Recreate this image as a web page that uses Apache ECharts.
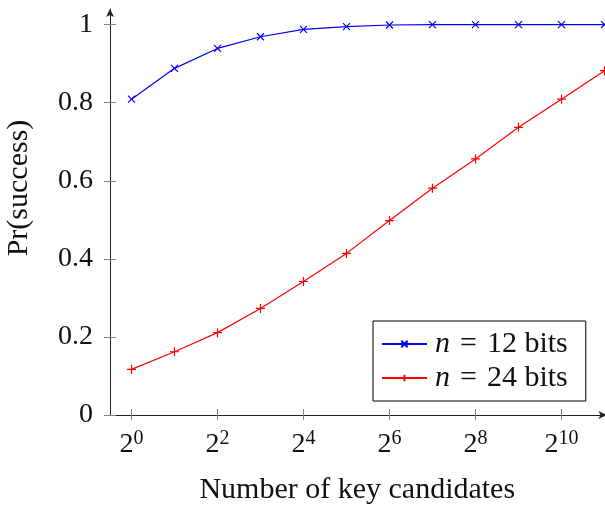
<!DOCTYPE html>
<html>
<head>
<meta charset="utf-8">
<script src="https://cdn.jsdelivr.net/npm/echarts@6/dist/echarts.min.js"></script>
<style>
    html, body { margin: 0; padding: 0; background: #fff; }
    #keyCandidates { width: 605px; height: 506px; }
</style>
</head>
<body>
<div id="keyCandidates"></div>
<script type="text/javascript">
// success probability vs number of key candidates (log2 scale)
var exponents = [0, 1, 2, 3, 4, 5, 6, 7, 8, 9, 10, 11]
var bits12 = [0.809, 0.888, 0.939, 0.969, 0.988, 0.995, 0.999, 1, 1, 1, 1, 1]
var bits24 = [0.117, 0.162, 0.211, 0.273, 0.342, 0.414, 0.498, 0.581, 0.656, 0.737, 0.809, 0.882]
var seriesNames = ['n = 12 bits', 'n = 24 bits']
var xTicks = [0, 2, 4, 6, 8, 10]
var yTicks = [0, 0.2, 0.4, 0.6, 0.8, 1]

var font = 'Liberation Serif'
var crossPath = 'path://M0,0L10,10M10,0L0,10'
var plusPath = 'path://M5,0L5,10M0,5L10,5'

function pairs(values) {
    return exponents.map(function (e, i) { return [e, values[i]] })
}

var axisLineStyle = { color: '#222', width: 1 }
var tickLineStyle = { color: '#808080', width: 1 }

var option = {
    backgroundColor: '#fff',
    animation: false,
    grid: {
        left: 110,
        right: 0.5,
        top: 9,
        bottom: 91,
        containLabel: false,
        outerBoundsMode: 'none'
    },
    legend: {
        orient: 'vertical',
        left: 373,
        top: 321,
        padding: [8, 18, 8, 8],
        itemGap: 4,
        itemWidth: 45,
        itemHeight: 8,
        borderColor: '#000',
        borderWidth: 1,
        backgroundColor: '#fff',
        data: seriesNames,
        formatter: function (name) {
            // italic n, a bit more room round "=" like TeX math
            return '{i|n}' + name.slice(1).replace(' = ', '\u2004=\u2004')
        },
        textStyle: {
            fontFamily: font,
            fontSize: 30,
            lineHeight: 30,
            color: '#111',
            padding: [0, 0, 0, 3],
            rich: {
                i: { fontFamily: font, fontSize: 30, fontStyle: 'italic', color: '#111' }
            }
        }
    },
    xAxis: [{
            type: 'value',
            min: -0.5,
            max: 11,
            name: 'Number of key candidates',
            nameLocation: 'middle',
            nameGap: 60,
            nameTextStyle: { fontFamily: font, fontSize: 30, color: '#111', verticalAlign: 'top' },
            splitLine: { show: false },
            axisLine: {
                onZero: false,
                lineStyle: axisLineStyle,
                symbol: ['none', 'arrow'],
                symbolSize: [6, 8],
                symbolOffset: [0, 2]
            },
            axisTick: { length: 5, lineStyle: tickLineStyle, customValues: xTicks },
            axisLabel: {
                margin: 14,
                customValues: xTicks,
                formatter: function (v) {
                    return '{b|2}{s|' + v + '}'
                },
                rich: {
                    b: { fontFamily: font, fontSize: 28, color: '#111' },
                    s: { fontFamily: font, fontSize: 20, color: '#111', padding: [0, 0, 12, 0] }
                }
            }
        },
        {
            type: 'value',
            position: 'bottom',
            offset: 0,
            min: -0.5,
            max: 11,
            splitLine: { show: false },
            axisLine: { show: false, onZero: false },
            axisLabel: { show: false },
            axisTick: { show: true, inside: true, length: 6, lineStyle: tickLineStyle, customValues: xTicks }
        }
    ],
    yAxis: [{
            type: 'value',
            min: 0,
            max: 1.04,
            name: 'Pr(success)',
            nameLocation: 'middle',
            nameGap: 76,
            nameTextStyle: { fontFamily: font, fontSize: 30, color: '#111', padding: [0, 0, 0, 48] },
            splitLine: { show: false },
            axisLine: {
                onZero: false,
                lineStyle: axisLineStyle,
                symbol: ['none', 'arrow'],
                symbolSize: [6, 8]
            },
            axisTick: { length: 6, lineStyle: tickLineStyle, customValues: yTicks },
            axisLabel: {
                margin: 17,
                customValues: yTicks,
                fontFamily: font,
                fontSize: 28,
                color: '#111'
            }
        },
        {
            type: 'value',
            position: 'left',
            offset: 0,
            min: 0,
            max: 1.04,
            splitLine: { show: false },
            axisLine: { show: false, onZero: false },
            axisLabel: { show: false },
            axisTick: { show: true, inside: true, length: 6, lineStyle: tickLineStyle, customValues: yTicks }
        }
    ],
    series: [{
            name: seriesNames[0],
            type: 'line',
            data: pairs(bits12),
            symbol: crossPath,
            symbolSize: 7,
            showAllSymbol: true,
            itemStyle: { color: '#0000ff', borderColor: '#0000ff', borderWidth: 1.2 },
            lineStyle: { color: '#0000ff', width: 1.2 }
        },
        {
            name: seriesNames[1],
            type: 'line',
            data: pairs(bits24),
            symbol: plusPath,
            symbolSize: 9,
            showAllSymbol: true,
            itemStyle: { color: '#ff0000', borderColor: '#ff0000', borderWidth: 1.2 },
            lineStyle: { color: '#ff0000', width: 1.2 }
        }
    ]
}

var myChart = echarts.init(document.getElementById('keyCandidates'), null, { renderer: 'canvas' })
myChart.setOption(option)
</script>
</body>
</html>
